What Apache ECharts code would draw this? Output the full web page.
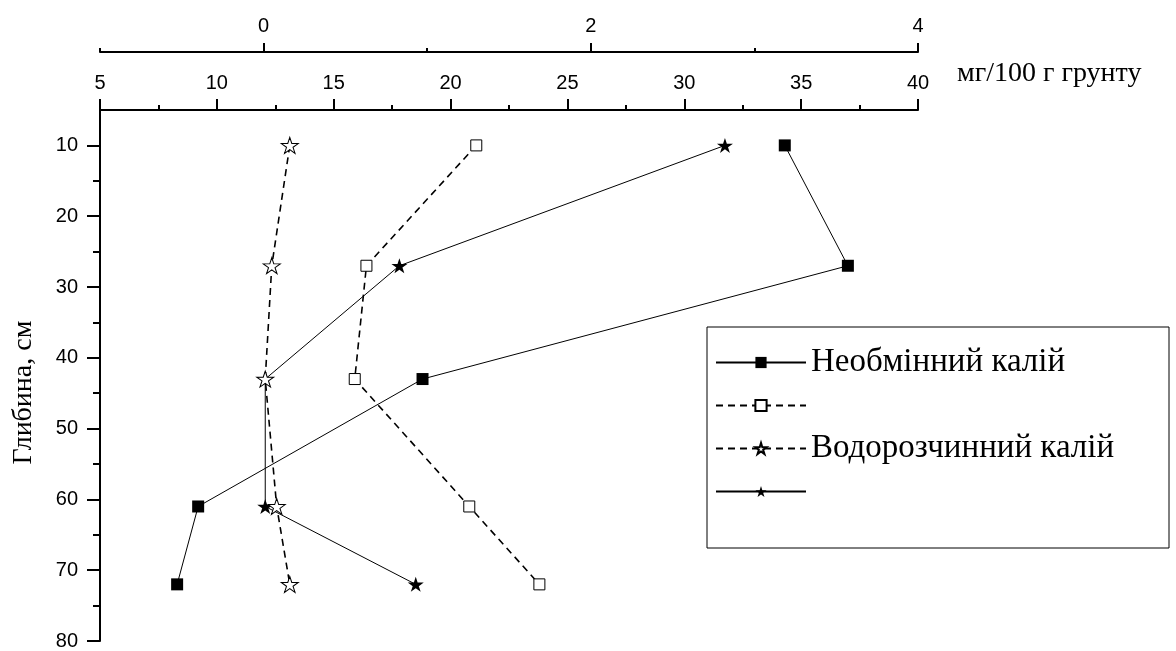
<!DOCTYPE html>
<html>
<head>
<meta charset="utf-8">
<script src="https://cdn.jsdelivr.net/npm/echarts@6/dist/echarts.min.js"></script>
<style>
html,body{margin:0;padding:0;background:#fff;}
#chart{width:1176px;height:651px;}
</style>
</head>
<body>
<div id="chart"></div>
<script>
// depth, cm
var depth = [10, 27, 43, 61, 72];
// mg/100 g soil (lower top axis, 5..40)
var nonExchK = [34.3, 37.0, 18.8, 9.2, 8.3];
var nonExchK2 = [21.1, 16.4, 15.9, 20.8, 23.8];
// upper top axis (-1..4)
var waterK = [0.16, 0.05, 0.01, 0.08, 0.16];
var waterK2 = [2.82, 0.83, 0.01, 0.01, 0.93];

var seriesNames = ['Необмінний калій', 'ряд2', 'Водорозчинний калій', 'ряд4'];
var hiddenNames = ['ряд2', 'ряд4'];
var unitText = 'мг/100 г грунту';
var yName = 'Глибина, см';

var topLabels = [0, 2, 4];
var topMinor = [-1, 1, 3];
var yLabels = [10, 20, 30, 40, 50, 60, 70, 80];
var yMinor = [15, 25, 35, 45, 55, 65, 75];

function pairs(xs) { return xs.map(function (v, i) { return [v, depth[i]]; }); }

var STAR = 'path://M100,0 L122.45,69.1 L195.1,69.1 L136.33,111.8 L158.78,180.9 L100,138.2 L41.22,180.9 L63.67,111.8 L4.9,69.1 L77.55,69.1 Z';
var axisFont = 'Liberation Sans';
var serif = 'Liberation Serif';
var blk = '#000';

var chart = echarts.init(document.getElementById('chart'));
chart.setOption({
  animation: false,
  backgroundColor: '#fff',
  title: {
    text: unitText, left: 957, top: 60, padding: 0,
    textStyle: { fontFamily: serif, fontSize: 28, fontWeight: 'normal', color: blk }
  },
  grid: { left: 100, right: 258, top: 110, bottom: 10, containLabel: false, outerBoundsMode: 'none' },
  legend: {
    orient: 'vertical', left: 707, top: 327,
    itemWidth: 90, itemHeight: 14, itemGap: 10,
    padding: [19, 8, 40, 8],
    borderColor: blk, borderWidth: 1,
    backgroundColor: '#fff',
    textStyle: { fontFamily: serif, fontSize: 33, color: blk, width: 350, lineHeight: 33 },
    formatter: function (n) { return hiddenNames.indexOf(n) >= 0 ? ' ' : n; },
    data: seriesNames
  },
  xAxis: [
    {
      type: 'value', position: 'top', offset: 0, min: 5, max: 40, interval: 5,
      axisLine: { show: true, onZero: false, lineStyle: { color: blk, width: 2 } },
      axisTick: { show: true, inside: false, length: 11, lineStyle: { color: blk, width: 2 } },
      minorTick: { show: true, splitNumber: 2, length: 5, lineStyle: { color: blk, width: 2 } },
      axisLabel: { margin: 17, fontFamily: axisFont, fontSize: 20, color: blk },
      splitLine: { show: false }, minorSplitLine: { show: false }
    },
    {
      type: 'value', position: 'top', offset: 58, min: -1, max: 4, interval: 1,
      axisLine: { show: true, onZero: false, lineStyle: { color: blk, width: 2 } },
      axisTick: { show: true, inside: false, length: 9, customValues: topLabels, lineStyle: { color: blk, width: 2 } },
      axisLabel: { margin: 16, fontFamily: axisFont, fontSize: 20, color: blk, customValues: topLabels },
      splitLine: { show: false }
    },
    {
      type: 'value', position: 'top', offset: 58, min: -1, max: 4, interval: 1,
      axisLine: { show: false, onZero: false },
      axisTick: { show: true, inside: false, length: 4, customValues: topMinor, lineStyle: { color: blk, width: 2 } },
      axisLabel: { show: false },
      splitLine: { show: false }
    }
  ],
  yAxis: [
    {
      type: 'value', inverse: true, min: 5, max: 80, interval: 5, position: 'left',
      name: yName, nameLocation: 'middle', nameGap: 62, nameRotate: 90,
      nameTextStyle: { fontFamily: serif, fontSize: 28, color: blk, padding: [0, 34, 0, 0] },
      axisLine: { show: true, onZero: false, lineStyle: { color: blk, width: 2 } },
      axisTick: { show: true, inside: false, length: 13, customValues: yLabels, lineStyle: { color: blk, width: 2 } },
      axisLabel: { margin: 22, fontFamily: axisFont, fontSize: 20, color: blk, customValues: yLabels },
      splitLine: { show: false }
    },
    {
      type: 'value', inverse: true, min: 5, max: 80, interval: 5, position: 'left', offset: 0,
      axisLine: { show: false, onZero: false },
      axisTick: { show: true, inside: false, length: 7, customValues: yMinor, lineStyle: { color: blk, width: 2 } },
      axisLabel: { show: false },
      splitLine: { show: false }
    }
  ],
  series: [
    {
      name: seriesNames[0], type: 'line', xAxisIndex: 0, yAxisIndex: 0,
      data: pairs(nonExchK), symbol: 'rect', symbolSize: 12,
      itemStyle: { color: blk, borderColor: blk, borderWidth: 0 },
      lineStyle: { color: blk, width: 1, type: 'solid' }, z: 2
    },
    {
      name: seriesNames[1], type: 'line', xAxisIndex: 0, yAxisIndex: 0,
      data: pairs(nonExchK2), symbol: 'rect', symbolSize: 11,
      itemStyle: { color: '#fff', borderColor: blk, borderWidth: 1 },
      lineStyle: { color: blk, width: 1.6, type: [7, 5] }, z: 3
    },
    {
      name: seriesNames[3], type: 'line', xAxisIndex: 1, yAxisIndex: 0,
      data: pairs(waterK2), symbol: STAR, symbolSize: [16, 15],
      itemStyle: { color: blk, borderColor: blk, borderWidth: 0 },
      lineStyle: { color: blk, width: 1, type: 'solid' }, z: 4
    },
    {
      name: seriesNames[2], type: 'line', xAxisIndex: 1, yAxisIndex: 0,
      data: pairs(waterK), symbol: STAR, symbolSize: [17, 16],
      itemStyle: { color: '#fff', borderColor: blk, borderWidth: 1 },
      lineStyle: { color: blk, width: 1.6, type: [7, 5] }, z: 5
    }
  ]
});
</script>
</body>
</html>
